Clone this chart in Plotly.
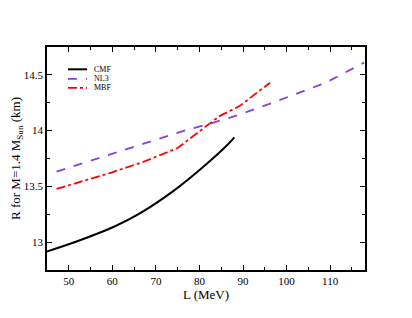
import plotly.graph_objects as go

cmf_L = [44.9, 52.1, 60.5, 66.2, 73.9, 81.5, 86.5, 88.0]
cmf_R = [12.915, 13.01, 13.14, 13.255, 13.455, 13.696, 13.875, 13.94]

nl3_L = [47.2, 66.3, 77.3, 82.3, 89.2, 96.8, 109.0, 117.8]
nl3_R = [13.633, 13.87, 14.009, 14.06, 14.144, 14.25, 14.43, 14.61]

mbf_L = [47.2, 59.8, 67.4, 75.0, 80.0, 84.6, 89.2, 96.2]
mbf_R = [13.477, 13.624, 13.724, 13.844, 13.994, 14.13, 14.22, 14.43]

names = ["CMF", "NL3", "MBF"]
colors = ["black", "#8a3fd6", "red"]
dashes = ["solid", "dash", "dashdot"]

fig = go.Figure()
fig.add_trace(go.Scatter(x=cmf_L, y=cmf_R, mode="lines", name=names[0],
                         line=dict(color=colors[0], width=2, shape="spline", smoothing=1.0)))
fig.add_trace(go.Scatter(x=nl3_L, y=nl3_R, mode="lines", name=names[1],
                         line=dict(color=colors[1], width=1.8, dash=dashes[1])))
fig.add_trace(go.Scatter(x=mbf_L, y=mbf_R, mode="lines", name=names[2],
                         line=dict(color=colors[2], width=1.8, dash=dashes[2])))

# compact legend (drawn in paper coordinates, like the original's inset legend)
leg_y = [0.900, 0.857, 0.817]
for name, col, dsh, yy in zip(names, colors, dashes, leg_y):
    fig.add_shape(type="line", xref="paper", yref="paper", x0=0.066, x1=0.126, y0=yy, y1=yy,
                  line=dict(color=col, width=2 if dsh == "solid" else 1.8, dash=dsh))
    fig.add_annotation(xref="paper", yref="paper", x=0.143, y=yy, text=name, showarrow=False,
                       xanchor="left", yanchor="middle",
                       font=dict(family="Liberation Serif", size=8, color="black"))

axis_common = dict(showgrid=False, zeroline=False, showline=True, linecolor="black",
                   linewidth=1.5, mirror="ticks", ticks="inside", ticklen=5,
                   tickcolor="black", automargin=False,
                   tickfont=dict(family="Liberation Serif", size=11, color="black"))

# page body adds an 8px offset, so the figure is 8px smaller with 8px less top/left margin
fig.update_layout(
    width=404, height=310,
    margin=dict(l=39, r=47, t=39, b=48),
    paper_bgcolor="white", plot_bgcolor="white",
    font=dict(family="Liberation Serif", color="black"),
    showlegend=False,
    xaxis=dict(range=[45, 118], tickvals=[50, 60, 70, 80, 90, 100, 110],
               minor=dict(dtick=5, tick0=0, ticks="inside", ticklen=3, tickcolor="black"),
               title=dict(text="L (MeV)", font=dict(size=13), standoff=0),
               **axis_common),
    yaxis=dict(range=[12.75, 14.75], tickvals=[13, 13.5, 14, 14.5],
               ticktext=["13", "13.5", "14", "14.5"],
               minor=dict(dtick=0.25, tick0=0, ticks="inside", ticklen=3, tickcolor="black"),
               title=dict(text="R for M=1.4 M<sub>Sun</sub> (km)", font=dict(size=13), standoff=5),
               **axis_common),
)

fig.write_html("out.html")
